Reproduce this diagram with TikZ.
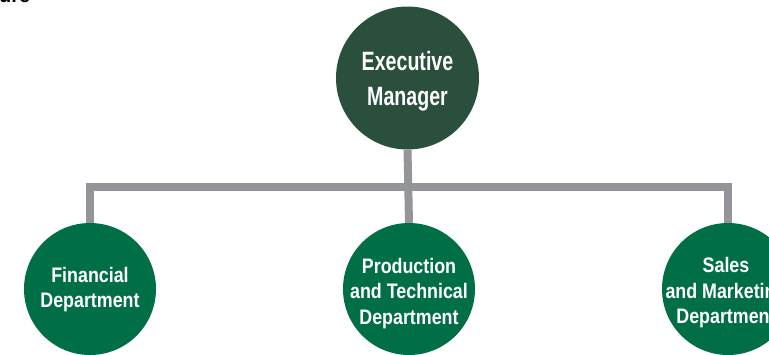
\documentclass[tikz,border=0pt]{standalone}
\usepackage{fontspec}
\setmainfont{Liberation Sans}
\newfontfamily\execfont{Liberation Sans}[FakeStretch=0.74]
\newfontfamily\deptfont{Liberation Sans}[FakeStretch=0.85]
\definecolor{execgreen}{HTML}{2A4F3D}
\definecolor{deptgreen}{HTML}{006F46}
\definecolor{linegrey}{HTML}{939598}
\tikzset{
  execbox/.style={circle, fill=execgreen, inner sep=0pt, minimum size=143pt},
  deptbox/.style={circle, fill=deptgreen, inner sep=0pt, minimum size=132pt},
  exectext/.style={text=white, inner sep=0pt, align=center,
    font=\execfont\bfseries\fontsize{26.5}{35}\selectfont},
  depttext/.style={text=white, inner sep=0pt, align=center,
    font=\deptfont\bfseries\fontsize{21}{25.5}\selectfont},
  conn/.style={draw=linegrey, line width=8pt, line join=miter},
  cuttext/.style={font=\bfseries\fontsize{20}{24}\selectfont, text=black, inner sep=0pt}
}
\begin{document}
\begin{tikzpicture}[x=1pt,y=-1pt]
\useasboundingbox (0,0) rectangle (769,354);
\clip (0,0) rectangle (769,354);
\node[cuttext, anchor=base west] (title) at (-1,2.5) {ure};
\node[execbox] (exec) at (407.5,78) {};
\node[deptbox] (fin) at (90,289) {};
\node[deptbox] (prod) at (409,289) {};
\node[deptbox] (sales) at (728,289) {};
\node[exectext] (exect) at ([yshift=-3.5pt]exec.center) {Executive\\Manager};
\node[depttext] (fint) at ([yshift=-0.5pt]fin.center) {Financial\\Department};
\node[depttext] (prodt) at ([yshift=-4.5pt]prod.center) {Production\\and Technical\\Department};
\node[depttext] (salest) at ([yshift=-4pt,xshift=-2pt]sales.center) {Sales\\and Marketing\\Department};
\coordinate (bar) at (409,187);
\draw[conn] (fin.north) |- (bar) -| (sales.north);
\draw[conn] (exec.south) -- (prod.north);
\end{tikzpicture}
\end{document}
